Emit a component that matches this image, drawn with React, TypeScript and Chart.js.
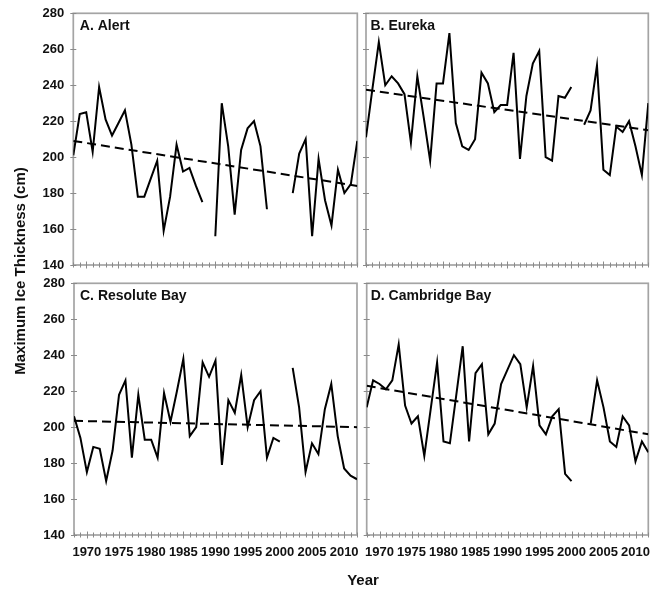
import React, { useEffect, useRef } from "react";
import { Chart, registerables } from "chart.js";

Chart.register(...registerables);

// ---------- data ----------
const years = [
  1968, 1969, 1970, 1971, 1972, 1973, 1974, 1975, 1976, 1977,
  1978, 1979, 1980, 1981, 1982, 1983, 1984, 1985, 1986, 1987,
  1988, 1989, 1990, 1991, 1992, 1993, 1994, 1995, 1996, 1997,
  1998, 1999, 2000, 2001, 2002, 2003, 2004, 2005, 2006, 2007,
  2008, 2009, 2010, 2011, 2012,
];
const xLabelYears = [1970, 1975, 1980, 1985, 1990, 1995, 2000, 2005, 2010];
const yTicks = [140, 160, 180, 200, 220, 240, 260, 280];

const alertValues = [
  201, 224, 225, 203, 239, 221, 212, 219, 226, 207,
  178, 178, 188, 198, 159, 178, 207, 192, 194, 184,
  175, null, 156, 230, 206, 168, 204, 216, 220, 206,
  171, null, null, null, 180, 202, 210, 156, 199, 176,
  162, 193, 180, 185, 209,
];
const eurekaValues = [
  211, 238, 264, 240, 245, 241, 235, 208, 245, 222,
  198, 241, 241, 269, 219, 206, 204, 210, 247, 241,
  225, 229, 229, 258, 199, 234, 252, 259, 200, 198,
  234, 233, 239, null, 218, 226, 251, 193, 190, 217,
  214, 220, 206, 190, 230,
];
const resoluteValues = [
  206, 194, 175, 189, 188, 170, 187, 218, 226, 183,
  218, 193, 193, 183, 219, 203, 220, 238, 195, 200,
  236, 228, 237, 179, 215, 208, 229, 200, 215, 220,
  183, 194, 192, null, 233, 211, 175, 191, 185, 210,
  224, 195, 177, 173, 171,
];
const cambridgeValues = [
  211, 226, 224, 221, 226, 246, 212, 202, 206, 184,
  210, 236, 192, 191, 218, 245, 192, 230, 235, 196,
  202, 224, 232, 240, 235, 211, 234, 201, 196, 206,
  210, 174, 170, null, null, 202, 226, 211, 192, 189,
  206, 201, 181, 192, 186,
];

// trend line values at first and last year
const alertTrend = [209, 184];
const eurekaTrend = [237.5, 215];
const resoluteTrend = [203.5, 200];
const cambridgeTrend = [223, 196];

const panelTitles = ["A. Alert", "B. Eureka", "C. Resolute Bay", "D. Cambridge Bay"];

// ---------- styling / layout ----------
const FONT = '"Liberation Sans", Arial, Helvetica, sans-serif';

type Panel = {
  title: string;
  values: (number | null)[];
  trend: number[];
  left: number;
  top: number;
  width: number;
  height: number;
  padTop: number;
  padRight: number;
  yWidth: number;
  xHeight: number;
  showY: boolean;
  showX: boolean;
  titleDx: number;
};

const panels: Panel[] = [
  { title: panelTitles[0], values: alertValues, trend: alertTrend, left: 0, top: 0, width: 360, height: 275, padTop: 13.3, padRight: 2.7, yWidth: 73.3, xHeight: 10, showY: true, showX: false, titleDx: 6.5 },
  { title: panelTitles[1], values: eurekaValues, trend: eurekaTrend, left: 360, top: 0, width: 293, height: 275, padTop: 13.3, padRight: 4.7, yWidth: 6, xHeight: 10, showY: false, showX: false, titleDx: 4.5 },
  { title: panelTitles[2], values: resoluteValues, trend: resoluteTrend, left: 0, top: 275, width: 360, height: 315, padTop: 8.3, padRight: 3, yWidth: 74, xHeight: 55, showY: true, showX: true, titleDx: 6 },
  { title: panelTitles[3], values: cambridgeValues, trend: cambridgeTrend, left: 360, top: 275, width: 293, height: 315, padTop: 8.3, padRight: 4.7, yWidth: 6.7, xHeight: 55, showY: false, showX: true, titleDx: 4 },
];

const panelDecor = {
  id: "panelDecor",
  beforeDatasetsDraw(chart: any, _args: any, opts: any) {
    const { ctx, chartArea: a, scales } = chart;
    const xs = scales.x;
    const ys = scales.y;
    ctx.save();
    // frame
    ctx.strokeStyle = "#a4a4a4";
    ctx.lineWidth = 1.7;
    ctx.strokeRect(a.left, a.top, a.right - a.left, a.bottom - a.top);
    // cross tick marks
    ctx.strokeStyle = "#8a8a8a";
    ctx.lineWidth = 1;
    ctx.beginPath();
    years.forEach((yr) => {
      const px = Math.round(xs.getPixelForValue(yr)) + 0.5;
      const major = yr % 5 === 0;
      ctx.moveTo(px, a.bottom - (major ? 3.5 : 2.5));
      ctx.lineTo(px, a.bottom + (major ? 3.5 : 2.5));
    });
    yTicks.forEach((v) => {
      const py = Math.round(ys.getPixelForValue(v)) + 0.5;
      ctx.moveTo(a.left - 3, py);
      ctx.lineTo(a.left + 3, py);
    });
    ctx.stroke();
    // panel title
    ctx.fillStyle = "#111";
    ctx.font = `bold 14px ${FONT}`;
    ctx.textBaseline = "middle";
    ctx.textAlign = "left";
    ctx.fillText(opts.title, a.left + opts.dx, a.top + 13);
    ctx.restore();
  },
};

function PanelChart({ p }: { p: Panel }) {
  const ref = useRef<HTMLCanvasElement | null>(null);
  useEffect(() => {
    if (!ref.current) return;
    const tickFont = { family: FONT, size: 13, weight: "bold" as const };
    const chart = new Chart(ref.current, {
      type: "line",
      data: {
        datasets: [
          {
            data: years.map((yr, i) => ({ x: yr, y: p.values[i] })),
            borderColor: "#000",
            borderWidth: 2,
            pointRadius: 0,
            tension: 0,
            spanGaps: false,
          },
          {
            data: [
              { x: years[0], y: p.trend[0] },
              { x: years[years.length - 1], y: p.trend[1] },
            ],
            borderColor: "#000",
            borderWidth: 2,
            borderDash: [9, 5],
            pointRadius: 0,
          },
        ],
      } as any,
      options: {
        animation: false,
        responsive: false,
        events: [],
        layout: { padding: { top: p.padTop, right: p.padRight, left: 0, bottom: 0 } },
        plugins: {
          legend: { display: false },
          tooltip: { enabled: false },
          panelDecor: { title: p.title, dx: p.titleDx },
        } as any,
        scales: {
          x: {
            type: "linear",
            min: years[0],
            max: years[years.length - 1],
            grid: { display: false, drawTicks: false },
            border: { display: false },
            ticks: {
              display: p.showX,
              stepSize: 1,
              autoSkip: false,
              maxRotation: 0,
              minRotation: 0,
              padding: 10,
              color: "#111",
              font: tickFont,
              callback: (v: any) => (xLabelYears.includes(Number(v)) ? String(v) : ""),
            },
            afterFit: (s: any) => {
              s.height = p.xHeight;
              s.paddingLeft = 0;
              s.paddingRight = 0;
              s.paddingTop = 0;
              s.paddingBottom = 0;
            },
          },
          y: {
            type: "linear",
            min: yTicks[0],
            max: yTicks[yTicks.length - 1],
            grid: { display: false, drawTicks: false },
            border: { display: false },
            ticks: {
              display: p.showY,
              stepSize: 20,
              padding: 9,
              color: "#111",
              font: tickFont,
            },
            afterFit: (s: any) => {
              s.width = p.yWidth;
              s.paddingLeft = 0;
              s.paddingRight = 0;
              s.paddingTop = 0;
              s.paddingBottom = 0;
            },
          },
        },
      } as any,
      plugins: [panelDecor as any],
    });
    return () => chart.destroy();
  }, [p]);
  return (
    <canvas
      ref={ref}
      width={p.width}
      height={p.height}
      style={{ position: "absolute", left: p.left, top: p.top, width: p.width, height: p.height, display: "block" }}
    />
  );
}

export default function App() {
  return (
    <div
      style={{
        position: "absolute",
        left: 0,
        top: 0,
        width: 653,
        height: 590,
        background: "#fff",
        overflow: "hidden",
        fontFamily: FONT,
      }}
    >
      {panels.map((p) => (
        <PanelChart key={p.title} p={p} />
      ))}
      <div
        style={{
          position: "absolute",
          left: 20 - 150,
          top: 271 - 9,
          width: 300,
          height: 18,
          lineHeight: "18px",
          textAlign: "center",
          fontSize: 15,
          fontWeight: "bold",
          color: "#111",
          transform: "rotate(-90deg)",
          whiteSpace: "nowrap",
        }}
      >
        Maximum Ice Thickness (cm)
      </div>
      <div
        style={{
          position: "absolute",
          left: 363 - 50,
          top: 580 - 9,
          width: 100,
          height: 18,
          lineHeight: "18px",
          textAlign: "center",
          fontSize: 15,
          fontWeight: "bold",
          color: "#111",
        }}
      >
        Year
      </div>
    </div>
  );
}
